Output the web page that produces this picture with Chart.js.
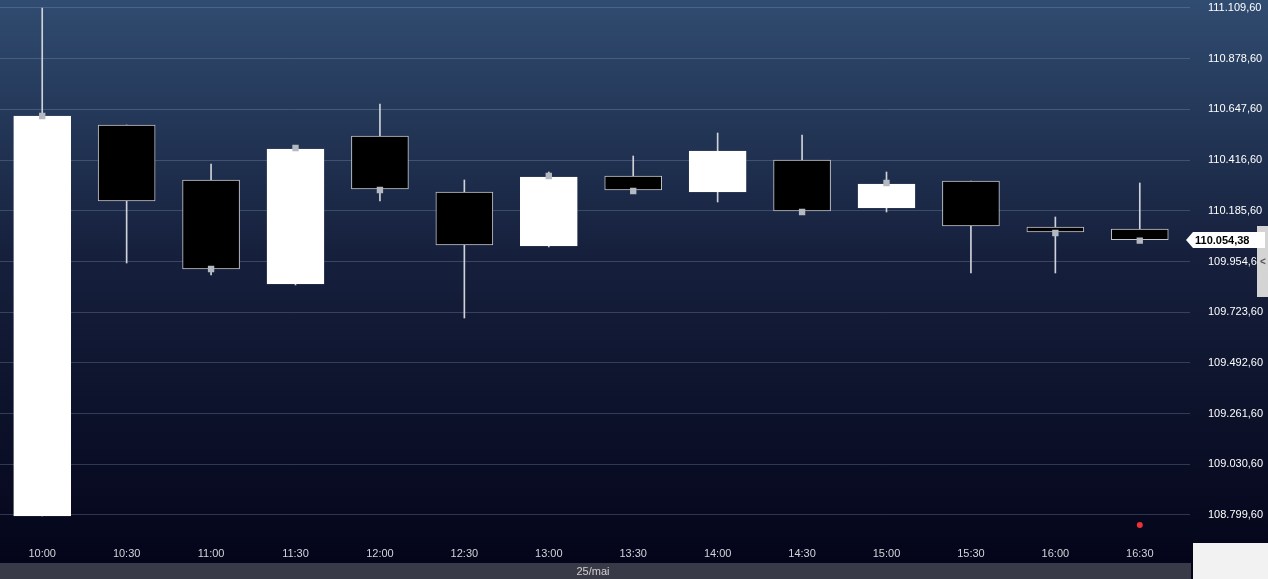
<!DOCTYPE html>
<html>
<head>
<meta charset="utf-8">
<script src="https://cdn.jsdelivr.net/npm/chart.js@4/dist/chart.umd.min.js"></script>
<style>
  html, body { margin: 0; padding: 0; background: #04051a; }
  #wrap { width: 1268px; height: 579px; position: relative; }
</style>
</head>
<body>
<div id="wrap"><canvas id="candles"></canvas></div>
<script>
const times = ["10:00", "10:30", "11:00", "11:30", "12:00", "12:30", "13:00",
  "13:30", "14:00", "14:30", "15:00", "15:30", "16:00", "16:30"];
const opens  = [108795.0, 110576.5, 110326.0, 109852.1, 110526.4, 110271.3, 110025.3,
  110344.2, 110271.3, 110417.1, 110198.4, 110321.4, 110111.8, 110102.7];
const highs  = [111109.6, 110576.5, 110398.9, 110471.7, 110672.2, 110326.0, 110362.4,
  110435.3, 110540.1, 110531.0, 110362.4, 110321.4, 110157.4, 110312.3];
const lows   = [108795.0, 109947.8, 109893.1, 109847.6, 110230.3, 109697.2, 110020.8,
  110275.8, 110225.7, 110180.2, 110180.2, 109902.3, 109902.3, 110054.38];
const closes = [110617.6, 110230.3, 109920.5, 110467.2, 110285.0, 110029.8, 110339.6,
  110280.4, 110458.1, 110184.7, 110307.7, 110116.4, 110089.1, 110054.38];
// small grey close markers (only where the reference shows one)
const markers = [110617.6, null, 109920.5, 110471.7, 110280.4, null, 110344.2,
  110275.8, null, 110180.2, 110312.3, null, 110084.6, 110050.0];
const redDot = [null, null, null, null, null, null, null, null, null, null, null, null, null, 108754.2];
const yTicks = [108799.6, 109030.6, 109261.6, 109492.6, 109723.6, 109954.6,
  110185.6, 110416.6, 110647.6, 110878.6, 111109.6];
const lastPrice = 110054.38;
const dayLabel = "25/mai";

const fmt = v => {
  let [i, d] = v.toFixed(2).split(".");
  i = i.replace(/\B(?=(\d{3})+(?!\d))/g, ".");
  return i + "," + d;
};

const up = closes.map((c, i) => c >= opens[i]);
const FONT = "'Liberation Sans', Arial, sans-serif";

const frame = {
  id: "frame",
  beforeDraw(chart) {
    const { ctx, width, height } = chart;
    let g = ctx.createLinearGradient(0, 0, 0, 560);
    g.addColorStop(0, "#304c70");
    g.addColorStop(0.45, "#16203d");
    g.addColorStop(1, "#04051a");
    ctx.save();
    ctx.fillStyle = g;
    ctx.fillRect(0, 0, width, height);
    ctx.restore();
  },
  afterDraw(chart) {
    const { ctx } = chart;
    const y = chart.scales.y;
    ctx.save();
    // bottom date strip
    ctx.fillStyle = "#393a47";
    ctx.fillRect(0, 563, 1191, 16);
    ctx.fillStyle = "#d0d0d0";
    ctx.font = "11px " + FONT;
    ctx.textAlign = "center";
    ctx.textBaseline = "middle";
    ctx.fillText(dayLabel, 593, 572);
    // right bottom corner box
    ctx.fillStyle = "#f2f2f2";
    ctx.fillRect(1193, 543, 75, 36);
    // scroll handle
    ctx.fillStyle = "#d4d4d4";
    ctx.fillRect(1257, 226, 11, 71);
    ctx.fillStyle = "#555";
    ctx.font = "bold 10px " + FONT;
    ctx.fillText("<", 1263, 262);
    // last price tag
    const py = Math.round(y.getPixelForValue(lastPrice));
    ctx.fillStyle = "#ffffff";
    ctx.beginPath();
    ctx.moveTo(1186, py);
    ctx.lineTo(1193, py - 8);
    ctx.lineTo(1265, py - 8);
    ctx.lineTo(1265, py + 8);
    ctx.lineTo(1193, py + 8);
    ctx.closePath();
    ctx.fill();
    ctx.fillStyle = "#000";
    ctx.font = "bold 11px " + FONT;
    ctx.textAlign = "left";
    ctx.fillText(fmt(lastPrice), 1195, py + 1);
    ctx.restore();
  }
};

const ctx = document.getElementById("candles").getContext("2d");
const chart = new Chart(ctx, {
  type: "bar",
  data: {
    labels: times,
    datasets: [{
      label: "wick",
      data: lows.map((l, i) => [l, highs[i]]),
      backgroundColor: "#cfd2d8",
      barThickness: 1,
      grouped: false,
      order: 3
    }, {
      label: "body",
      data: opens.map((o, i) => [o, closes[i]]),
      backgroundColor: up.map(u => u ? "#ffffff" : "#000000"),
      borderColor: up.map(u => u ? "#ffffff" : "#c4c6cc"),
      borderWidth: 1,
      borderSkipped: false,
      barThickness: 57,
      grouped: false,
      order: 2
    }, {
      type: "line",
      label: "close",
      data: markers,
      showLine: false,
      pointStyle: "rect",
      pointRadius: 4.5,
      pointBackgroundColor: "#b4b8c0",
      pointBorderWidth: 0,
      order: 1
    }, {
      type: "line",
      label: "live",
      data: redDot,
      showLine: false,
      pointRadius: 3,
      pointBackgroundColor: "#e8333a",
      pointBorderWidth: 0,
      order: 0
    }]
  },
  options: {
    responsive: true,
    maintainAspectRatio: false,
    animation: false,
    layout: { autoPadding: false, padding: { bottom: 18 } },
    plugins: { legend: { display: false }, tooltip: { enabled: false } },
    scales: {
      x: {
        grid: { display: false, drawTicks: false },
        border: { display: false },
        afterFit: axis => {
          axis.height = 20;
          axis.paddingLeft = 0;
          axis.paddingRight = 0;
        },
        ticks: { color: "#d2d4d8", font: { family: FONT, size: 11 }, padding: 6, maxRotation: 0 }
      },
      y: {
        position: "right",
        min: 108681.1,
        max: 111146.05,
        afterBuildTicks: axis => { axis.ticks = yTicks.map(v => ({ value: v })); },
        afterFit: axis => {
          axis.width = 86;
          axis.paddingTop = 0;
          axis.paddingBottom = 0;
        },
        grid: { color: "rgba(150,170,200,0.28)", tickLength: 8 },
        border: { display: false },
        ticks: {
          color: "#ffffff",
          font: { family: FONT, size: 11 },
          padding: 18,
          callback: v => fmt(v)
        }
      }
    }
  },
  plugins: [frame]
});
</script>
</body>
</html>
